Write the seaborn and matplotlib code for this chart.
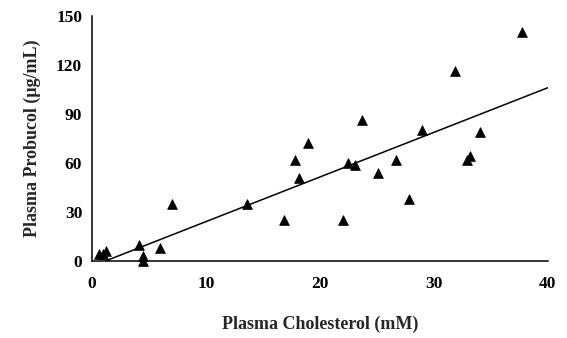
import matplotlib
matplotlib.use("Agg")
import matplotlib.pyplot as plt
import seaborn as sns
import pandas as pd

# data
cholesterol = [0.6, 1.0, 1.2, 4.1, 4.5, 4.5, 6.0, 7.0, 13.6, 16.9, 17.8, 18.2, 19.0,
               22.0, 22.5, 23.1, 23.7, 25.1, 26.7, 27.8, 29.0, 31.9, 32.9, 33.2, 34.1, 37.7]
probucol = [4, 4, 6, 10, 3, 0, 8, 35, 35, 25, 62, 51, 72,
            25, 60, 59, 86, 54, 62, 38, 80, 116, 62, 64, 79, 140]
fit_x = [1.2, 40]
fit_y = [0, 106]
x_ticks = [0, 10, 20, 30, 40]
y_ticks = [0, 30, 60, 90, 120, 150]

sns.set_style("white")
plt.rcParams['font.family'] = ['Liberation Serif', 'DejaVu Serif']

fig = plt.figure(figsize=(5.67, 3.38), dpi=100)
ax = fig.add_axes([0.162, 0.228, 0.804, 0.725])

df = pd.DataFrame({"x": cholesterol, "y": probucol})
sns.lineplot(x=fit_x, y=fit_y, ax=ax, color="black", linewidth=1.1)
sns.scatterplot(data=df, x="x", y="y", ax=ax, marker="^", s=50, color="black",
                edgecolor="black", linewidth=0.5, zorder=5, clip_on=False)

ax.set_xlim(0, 40)
ax.set_ylim(0, 150)
ax.set_xticks(x_ticks)
ax.set_yticks(y_ticks)
ax.tick_params(direction="in", length=4, width=1, colors="black", labelsize=12.5)
ax.tick_params(axis="x", pad=11)
ax.tick_params(axis="y", pad=7)
for lab in ax.get_xticklabels() + ax.get_yticklabels():
    lab.set_fontweight("bold")
for s in ["top", "right"]:
    ax.spines[s].set_visible(False)
for s in ["left", "bottom"]:
    ax.spines[s].set_color("black")
    ax.spines[s].set_linewidth(1.1)

ax.set_xlabel("Plasma Cholesterol (mM)", fontsize=13, fontweight="bold", labelpad=17)
ax.set_ylabel("Plasma Probucol (\u03bcg/mL)", fontsize=13, fontweight="bold", labelpad=11)

fig.savefig("out.png", dpi=100)
